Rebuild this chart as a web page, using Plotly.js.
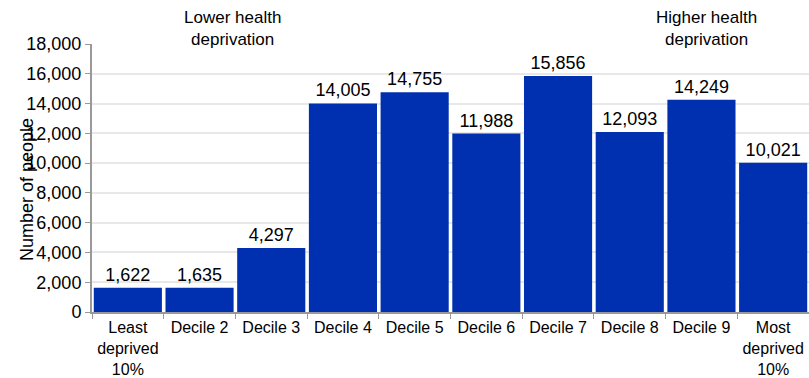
<!DOCTYPE html>
<html><head><meta charset="utf-8">
<script src="https://cdn.plot.ly/plotly-3.0.1.min.js"></script>
<style>html,body{margin:0;padding:0;background:#fff}</style>
</head><body>
<div id="chart" style="width:809px;height:378px"></div>
<script>
const categories = ["Least<br>deprived<br>10%", "Decile 2", "Decile 3", "Decile 4", "Decile 5", "Decile 6", "Decile 7", "Decile 8", "Decile 9", "Most<br>deprived<br>10%"];
const people = [1622, 1635, 4297, 14005, 14755, 11988, 15856, 12093, 14249, 10021];
const yTicks = [0, 2000, 4000, 6000, 8000, 10000, 12000, 14000, 16000, 18000];
const yTickText = yTicks.map(v => v.toLocaleString('en-GB'));
const labels = people.map(v => v.toLocaleString('en-GB'));

const font = "Liberation Sans, Arial, sans-serif";
const trace = {
  type: 'bar', x: categories, y: people,
  marker: {color: '#0030b0'},
  text: labels, textposition: 'outside', cliponaxis: false,
  textfont: {family: font, size: 18, color: '#000'},
  hoverinfo: 'skip'
};
const layout = {
  width: 809, height: 378,
  margin: {l: 92, r: 0, t: 44, b: 66},
  paper_bgcolor: '#fff', plot_bgcolor: '#fff',
  bargap: 0.05,
  showlegend: false,
  font: {family: font, color: '#000'},
  xaxis: {
    type: 'category', tickson: 'boundaries', ticks: 'outside', ticklen: 5, tickcolor: '#999',
    showline: true, linecolor: '#999', linewidth: 2,
    tickfont: {family: font, size: 16, color: '#000'}, tickangle: 0
  },
  yaxis: {
    range: [0, 18000], tickvals: yTicks, ticktext: yTickText,
    ticks: 'outside', ticklen: 5, tickcolor: '#999',
    showline: true, linecolor: '#999', linewidth: 2,
    showgrid: true, gridcolor: '#e8e8e8', gridwidth: 2, zeroline: false,
    tickfont: {family: font, size: 18, color: '#000'}
  },
  annotations: [
    {text: 'Lower health<br>deprivation', xref: 'paper', yref: 'paper', x: (232-92)/717, y: 1 + (44-28)/268,
     showarrow: false, font: {family: font, size: 17, color: '#000'}, xanchor: 'center', yanchor: 'middle'},
    {text: 'Higher health<br>deprivation', xref: 'paper', yref: 'paper', x: (706-92)/717, y: 1 + (44-28)/268,
     showarrow: false, font: {family: font, size: 17, color: '#000'}, xanchor: 'center', yanchor: 'middle'},
    {text: 'Number of people', xref: 'paper', yref: 'paper', x: (27-92)/717, y: (312-190)/268, textangle: -90,
     showarrow: false, font: {family: font, size: 18, color: '#000'}, xanchor: 'center', yanchor: 'middle'}
  ]
};
Plotly.newPlot('chart', [trace], layout, {displayModeBar: false, staticPlot: true});
</script>
</body></html>
